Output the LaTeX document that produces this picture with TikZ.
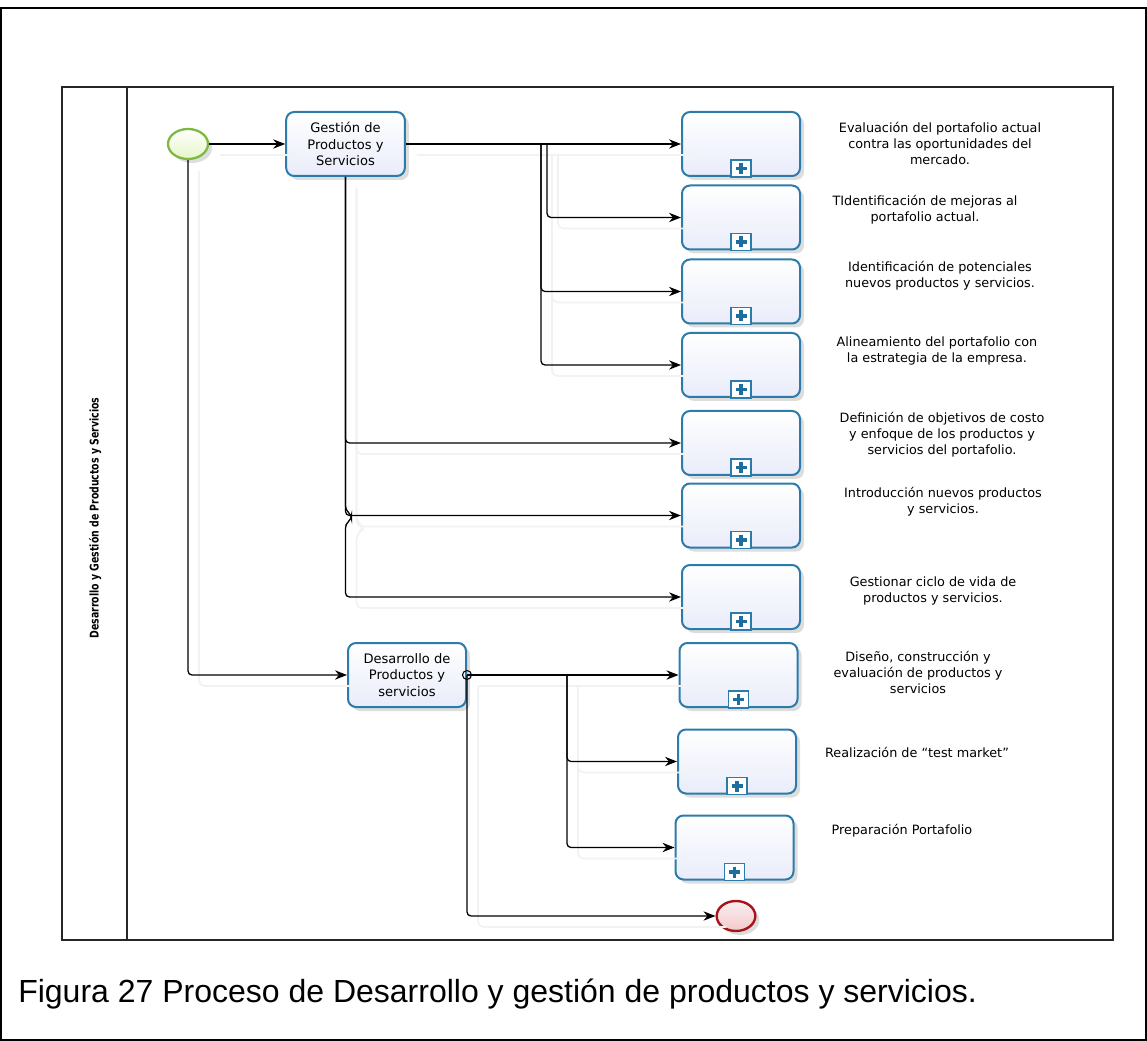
\documentclass[tikz,border=0pt]{standalone}
\usepackage{fontspec}
\setmainfont{DejaVu Sans}
\newfontfamily\capfont{Liberation Sans}
\usetikzlibrary{arrows.meta,shadows,calc,shapes.geometric}

\definecolor{taskline}{HTML}{2C7BAA}
\definecolor{taskfill}{HTML}{E9ECFA}
\definecolor{plusblue}{HTML}{1D6E9E}
\definecolor{startline}{HTML}{7DB83F}
\definecolor{startfill}{HTML}{E6F5C8}
\definecolor{endline}{HTML}{A5161C}
\definecolor{endfill}{HTML}{F2C9CB}

\tikzset{
  boxshadow/.style={drop shadow={shadow xshift=3pt, shadow yshift=-3pt, opacity=0.22, fill=black!60}},
  task/.style={rectangle, rounded corners=6pt, draw=taskline, line width=1.5pt,
    top color=white, bottom color=taskfill, minimum width=88.5pt, minimum height=48pt,
    inner sep=1pt, align=center, font=\fontsize{9.8}{12.5}\selectfont, boxshadow},
  label/.style={align=center, font=\fontsize{9.6}{12}\selectfont},
  evstart/.style={ellipse, draw=startline, line width=1.7pt, top color=white, bottom color=startfill,
    minimum width=30pt, minimum height=22.5pt, inner sep=0pt, boxshadow},
  evend/.style={ellipse, draw=endline, line width=1.8pt, top color=white!70!endfill, bottom color=endfill,
    minimum width=29pt, minimum height=22.5pt, inner sep=0pt, boxshadow},
  flow/.style={draw=black, line width=0.95pt, rounded corners=3pt, -{Stealth[length=9pt,width=7pt]}},
  plusmark/.pic={
    \draw[taskline, line width=1.4pt, fill=white] (-10,0) rectangle (10,-17);
    \draw[plusblue, line width=2.4pt] (-5.5,-8.5) -- (5.5,-8.5) (0,-14) -- (0,-3);
  }
}

% all sequence flows of the process
\newcommand\processflows{%
  \draw[flow] (start) -- (g);
  \draw[flow] (start.south) |- (d.west);
  \draw[flow] (g.east) -- (s1.west);
  \draw[flow] (br1) |- (s3.west);
  \draw[flow] (br1) |- (s4.west);
  \draw[flow] (br1b) |- (s2.west);
  \draw[flow] (g.south) |- (s5.west);
  \draw[flow] (g.south) |- (s6.west);
  \draw[flow] (g.south) -- ($(g.south)+(0,333)$) -- ++(6,5) -- ++(0,4) -- ++(-6,5) |- (s7.west);
  \draw[flow] (d.east) -- (s8.west);
  \draw[flow] (br2) |- (s9.west);
  \draw[flow] (br2) |- (s10.west);
  \draw[flow] (d.east) |- (stop.west);
}

\begin{document}
\begin{tikzpicture}[x=0.75pt, y=-0.75pt]
\useasboundingbox (0,0) rectangle (1147,1041);

% page frame and pool
\draw[line width=1.2pt] (1,8) rectangle (1146,1040);
\draw[line width=0.9pt, black!85] (62,87) rectangle (1113,940);
\draw[line width=0.9pt, black!85] (127,87) -- (127,940);
\node[rotate=90, font=\bfseries\fontsize{9}{10}\selectfont] (lane) at (95,518)
  {\scalebox{0.78}[1]{Desarrollo y Gestión de Productos y Servicios}};

% events and tasks
\node[evstart] (start) at (188,144) {};
\node[evend] (stop) at (736,916) {};
\node[task, minimum width=89pt] (g) at (345.5,144) {Gestión de\\Productos y\\Servicios};
\node[task] (d) at (407,675) {Desarrollo de\\Productos y\\servicios};

% collapsed sub-processes
\foreach \n/\x/\y in {s1/741/144, s2/741/217.5, s3/741/291.5, s4/741/365, s5/741/443,
                      s6/741/515.5, s7/741/597, s8/738.5/675, s9/737/761.5, s10/734.5/847.5}{
  \node[task] (\n) at (\x,\y) {};
  \pic at (\n.south) {plusmark};
}

% branching points of the flows
\coordinate (br1) at (541,144);
\coordinate (br1b) at (547,144);
\coordinate (br2) at (567,675);

% connector shadows
\begin{scope}[transform canvas={shift={(8.25pt,-8.25pt)}}]
  \tikzset{flow/.style={draw=black!5, line width=1.3pt, rounded corners=4pt}}
  \processflows
\end{scope}
\processflows
\draw[black, line width=0.8pt] (d.east) circle[radius=4.5];

% sub-process descriptions
\node[label] (t1) at (940,143) {Evaluación del portafolio actual\\contra las oportunidades del\\mercado.};
\node[label] (t2) at (925,210) {TIdentificación de mejoras al\\portafolio actual.};
\node[label] (t3) at (940,276) {Identificación de potenciales\\nuevos productos y servicios.};
\node[label] (t4) at (937,351) {Alineamiento del portafolio con\\la estrategia de la empresa.};
\node[label] (t5) at (942,435) {Definición de objetivos de costo\\y enfoque de los productos y\\servicios del portafolio.};
\node[label] (t6) at (943,502) {Introducción nuevos productos\\y servicios.};
\node[label] (t7) at (933,591) {Gestionar ciclo de vida de\\productos y servicios.};
\node[label] (t8) at (918,672) {Diseño, construcción y\\evaluación de productos y\\servicios};
\node[label] (t9) at (917,752) {Realización de “test market”};
\node[label] (t10) at (902,831) {Preparación Portafolio};

% caption
\node[anchor=base west, inner sep=0pt, font=\capfont\fontsize{24}{28}\selectfont] (cap) at (18,1002)
  {Figura 27 Proceso de Desarrollo y gestión de productos y servicios.};
\end{tikzpicture}
\end{document}
